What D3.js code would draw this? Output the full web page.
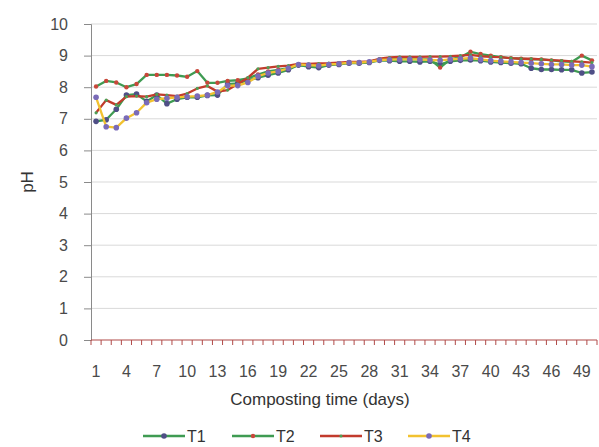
<!DOCTYPE html>
<html>
<head>
<meta charset="utf-8">
<script src="https://cdn.jsdelivr.net/npm/d3@7"></script>
<style>
  html, body { margin: 0; padding: 0; background: #ffffff; }
  svg { display: block; font-family: "Liberation Sans", Arial, sans-serif; }
</style>
</head>
<body>
<svg id="chart" width="599" height="447"></svg>
<script>
const days = d3.range(1, 51);
const xTickLabels = [1, 4, 7, 10, 13, 16, 19, 22, 25, 28, 31, 34, 37, 40, 43, 46, 49];
const yTicks = [0, 1, 2, 3, 4, 5, 6, 7, 8, 9, 10];
const seriesNames = ["T1", "T2", "T3", "T4"];

const T1 = [6.92, 6.97, 7.30, 7.75, 7.78, 7.55, 7.75, 7.48, 7.62, 7.68,
            7.68, 7.74, 7.75, 8.10, 8.12, 8.22, 8.30, 8.38, 8.45, 8.55,
            8.70, 8.65, 8.62, 8.70, 8.72, 8.76, 8.76, 8.78, 8.85, 8.84,
            8.82, 8.82, 8.80, 8.82, 8.72, 8.82, 8.85, 8.86, 8.84, 8.80,
            8.78, 8.76, 8.74, 8.60, 8.56, 8.56, 8.55, 8.55, 8.45, 8.48];
const T2 = [8.02, 8.20, 8.15, 8.00, 8.10, 8.39, 8.39, 8.39, 8.37, 8.33,
            8.51, 8.14, 8.14, 8.20, 8.22, 8.28, 8.40, 8.50, 8.55, 8.60,
            8.70, 8.68, 8.70, 8.72, 8.75, 8.78, 8.78, 8.80, 8.88, 8.90,
            8.90, 8.90, 8.88, 8.88, 8.62, 8.88, 8.95, 9.12, 9.05, 9.00,
            8.95, 8.92, 8.90, 8.88, 8.88, 8.85, 8.82, 8.80, 9.00, 8.85];
const T3 = [7.19, 7.59, 7.44, 7.70, 7.72, 7.70, 7.77, 7.75, 7.72, 7.80,
            7.96, 8.04, 7.86, 7.91, 8.10, 8.30, 8.58, 8.62, 8.66, 8.68,
            8.74, 8.74, 8.75, 8.76, 8.78, 8.80, 8.80, 8.82, 8.90, 8.94,
            8.96, 8.96, 8.96, 8.97, 8.97, 8.98, 9.00, 9.02, 8.98, 8.96,
            8.95, 8.92, 8.90, 8.90, 8.88, 8.86, 8.84, 8.82, 8.80, 8.78];
const T4 = [7.68, 6.75, 6.72, 7.02, 7.19, 7.51, 7.62, 7.65, 7.68, 7.70,
            7.72, 7.75, 7.85, 8.05, 8.05, 8.15, 8.35, 8.45, 8.50, 8.60,
            8.72, 8.70, 8.68, 8.72, 8.74, 8.78, 8.78, 8.80, 8.86, 8.87,
            8.88, 8.88, 8.88, 8.86, 8.85, 8.88, 8.90, 8.92, 8.88, 8.84,
            8.82, 8.80, 8.78, 8.76, 8.74, 8.72, 8.72, 8.70, 8.70, 8.65];

const seriesValues = [T1, T2, T3, T4];
const lineColors = ["#3f9b52", "#3f9b52", "#c23b2c", "#f2c230"];
const markerColors = ["#4f4f86", "#c8473a", "#4f9f55", "#7a6bb8"];
const markerRadius = [2.8, 2.2, 1.6, 2.8];

const svg = d3.select("#chart");
const mLeft = 91, mRight = 597, mTop = 24, mBottom = 340;

const x = d3.scaleBand().domain(days).range([mLeft, mRight]).padding(0);
const xc = d => x(d) + x.bandwidth() / 2;
const y = d3.scaleLinear().domain([0, 10]).range([mBottom, mTop]);

// gridlines
svg.append("g").selectAll("line").data(yTicks.filter(v => v > 0)).join("line")
  .attr("x1", mLeft).attr("x2", mRight)
  .attr("y1", d => y(d)).attr("y2", d => y(d))
  .attr("stroke", "#d9d9d9").attr("stroke-width", 1);

// y axis
const yAxis = d3.axisLeft(y).tickValues(yTicks).tickSize(7).tickPadding(16).tickFormat(d3.format("d"));
const gy = svg.append("g").attr("transform", `translate(${mLeft},0)`).call(yAxis);
gy.select(".domain").attr("stroke", "#8a8a8a");
gy.selectAll(".tick line").attr("stroke", "#8a8a8a");
gy.selectAll(".tick text").attr("fill", "#4a4a4a").style("font-size", "16px")
  .style("font-family", "'Liberation Sans', Arial, sans-serif");

// x axis (category ticks between categories)
const gx = svg.append("g");
gx.append("line").attr("x1", mLeft).attr("x2", mRight).attr("y1", mBottom).attr("y2", mBottom)
  .attr("stroke", "#b04a48").attr("stroke-width", 1.2);
gx.selectAll("line.tk").data(d3.range(0, days.length + 1)).join("line").attr("class", "tk")
  .attr("x1", i => mLeft + i * x.step()).attr("x2", i => mLeft + i * x.step())
  .attr("y1", mBottom).attr("y2", mBottom + 5)
  .attr("stroke", "#b04a48").attr("stroke-width", 1);
gx.selectAll("text").data(xTickLabels).join("text")
  .attr("x", d => xc(d)).attr("y", mBottom + 37)
  .attr("text-anchor", "middle").attr("fill", "#4a4a4a").style("font-size", "16px")
  .text(d => d);

// axis titles
svg.append("text").attr("x", 320).attr("y", 405).attr("text-anchor", "middle")
  .attr("fill", "#333").style("font-size", "17px").text("Composting time (days)");
svg.append("text").attr("transform", `translate(33,${(mTop + mBottom) / 2}) rotate(-90)`)
  .attr("text-anchor", "middle").attr("fill", "#333").style("font-size", "17px").text("pH");

// series
const line = d3.line().x((d, i) => xc(days[i])).y(d => y(d));
seriesValues.forEach((vals, s) => {
  const g = svg.append("g");
  g.append("path").datum(vals).attr("d", line)
    .attr("fill", "none").attr("stroke", lineColors[s]).attr("stroke-width", 2.3)
    .attr("stroke-linejoin", "round");
  g.selectAll("circle").data(vals).join("circle")
    .attr("cx", (d, i) => xc(days[i])).attr("cy", d => y(d))
    .attr("r", markerRadius[s]).attr("fill", markerColors[s]);
});

// legend
const legendX = [143, 232, 320, 408];
const legendY = 436;
seriesNames.forEach((name, s) => {
  const g = svg.append("g");
  g.append("line").attr("x1", legendX[s]).attr("x2", legendX[s] + 42)
    .attr("y1", legendY).attr("y2", legendY)
    .attr("stroke", lineColors[s]).attr("stroke-width", 2.3);
  g.append("circle").attr("cx", legendX[s] + 21).attr("cy", legendY)
    .attr("r", markerRadius[s]).attr("fill", markerColors[s]);
  g.append("text").attr("x", legendX[s] + 44).attr("y", legendY + 5.5)
    .attr("fill", "#333").style("font-size", "16px").text(name);
});
</script>
</body>
</html>
